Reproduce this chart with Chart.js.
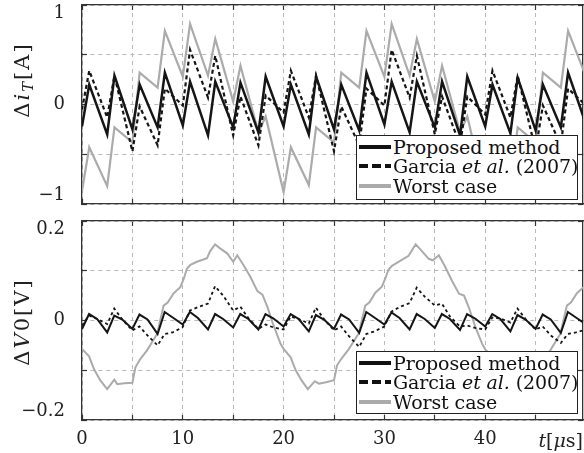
<!DOCTYPE html>
<html><head><meta charset="utf-8">
<script src="https://cdn.jsdelivr.net/npm/chart.js@4/dist/chart.umd.min.js"></script>
<style>
body{margin:0;background:#fff;width:584px;height:453px;overflow:hidden;position:relative;font-family:'DejaVu Serif',serif;color:#222}
canvas{position:absolute;left:0}
#c1{top:0}
#c2{top:212px}
.ylab{position:absolute;white-space:nowrap;font-size:21px;letter-spacing:2px;transform:translate(-50%,-50%) rotate(-90deg);}
.ylab sub{font-size:0.7em;vertical-align:-0.25em;line-height:0}
.leg{position:absolute;left:356px;width:222px;border:1.5px solid #222;background:#fff;font-size:19px;color:#111;box-sizing:border-box;padding:1px 0 0 0}
.leg div{display:flex;align-items:center;height:19.5px;white-space:nowrap;letter-spacing:-0.1px}
.leg svg{margin:0 2px 0 2px;flex:none}
#xlab{position:absolute;right:1px;top:429px;font-size:19px;white-space:nowrap}
</style></head>
<body>
<canvas id="c1" width="584" height="212"></canvas>
<canvas id="c2" width="584" height="241"></canvas>
<div class="ylab" style="left:22px;top:80px">Δ<i>i</i><sub><i>T</i></sub>[A]</div>
<div class="ylab" style="left:22px;top:322px">Δ<i>V</i>0[V]</div>
<div id="xlab"><i>t</i>[<i>μ</i>s]</div>
<div class="leg" style="top:135px;height:65px">
 <div><svg width="32" height="8"><line x1="0" y1="4" x2="32" y2="4" stroke="#111" stroke-width="4"/></svg>Proposed method</div>
 <div><svg width="32" height="8"><line x1="0" y1="4" x2="32" y2="4" stroke="#111" stroke-width="4" stroke-dasharray="9,4"/></svg>Garcia&nbsp;<i>et al.</i>&nbsp;(2007)</div>
 <div><svg width="32" height="8"><line x1="0" y1="4" x2="32" y2="4" stroke="#aaa" stroke-width="4"/></svg>Worst case</div>
</div>
<div class="leg" style="top:351px;height:63px">
 <div><svg width="32" height="8"><line x1="0" y1="4" x2="32" y2="4" stroke="#111" stroke-width="4"/></svg>Proposed method</div>
 <div><svg width="32" height="8"><line x1="0" y1="4" x2="32" y2="4" stroke="#111" stroke-width="4" stroke-dasharray="9,4"/></svg>Garcia&nbsp;<i>et al.</i>&nbsp;(2007)</div>
 <div><svg width="32" height="8"><line x1="0" y1="4" x2="32" y2="4" stroke="#aaa" stroke-width="4"/></svg>Worst case</div>
</div>
<script>
// ---------- data ----------
const seriesNames = ['Proposed method', 'Garcia et al. (2007)', 'Worst case'];

const tTop = [0,0.72,2.5,3.22,5,5.72,7.5,8.22,10,10.72,12.5,13.22,15,15.72,17.5,18.22,
  20,20.72,22.5,23.22,25,25.72,27.5,28.22,30,30.72,32.5,33.22,35,35.72,37.5,38.22,
  40,40.72,42.5,43.22,45,45.72,47.5,48.22,50];
const proposedTop = [-0.22,0.20,-0.30,0.29,-0.25,0.20,-0.23,0.32,-0.21,0.23,-0.31,0.23,-0.23,0.22,-0.28,0.28,
  -0.22,0.20,-0.30,0.28,-0.25,0.20,-0.26,0.32,-0.20,0.23,-0.28,0.23,-0.23,0.23,-0.31,0.28,
  -0.22,0.20,-0.29,0.27,-0.26,0.20,-0.23,0.32,-0.20];
const garciaTop = [-0.05,0.34,-0.13,0.29,-0.47,-0.02,-0.41,0.16,-0.01,0.55,0.07,0.49,-0.31,0.08,-0.41,0.09,
  -0.08,0.34,-0.13,0.29,-0.47,-0.02,-0.41,0.16,-0.01,0.55,0.07,0.49,-0.30,0.08,-0.41,0.08,
  -0.10,0.34,-0.13,0.29,-0.46,-0.01,-0.41,0.16,-0.01];
const worstTop = [-0.87,-0.43,-0.82,-0.23,-0.38,0.32,0.17,0.74,0.28,0.81,0.29,0.66,0.03,0.39,-0.28,-0.12,
  -0.88,-0.43,-0.81,-0.23,-0.38,0.32,0.17,0.74,0.28,0.81,0.29,0.66,0.03,0.39,-0.28,-0.12,
  -0.88,-0.43,-0.82,-0.23,-0.38,0.32,0.17,0.74,0.28];

const tBot = [0,0.7,1.5,2.5,3.2,4,5,5.7,6.5,7.5,8.2,9,10,10.7,11.5,12.5,13.2,14,15,15.7,16.5,17.5,18.2,19,
  20,20.7,21.5,22.5,23.2,24,25,25.7,26.5,27.5,28.2,29,30,30.7,31.5,32.5,33.2,34,35,35.7,36.5,37.5,38.2,39,
  40,40.7,41.5,42.5,43.2,44,45,45.7,46.5,47.5,48.2,49,50];
const proposedBot = [-0.017,0.013,0.003,-0.024,0.010,0.002,-0.017,0.012,0.002,-0.027,0.017,0.006,
  -0.008,0.017,0.005,-0.018,0.013,0.003,-0.014,0.013,0.003,-0.018,0.013,0.004,
  -0.012,0.013,0.003,-0.022,0.011,0.002,-0.017,0.012,0.002,-0.025,0.017,0.006,
  -0.008,0.016,0.005,-0.018,0.013,0.003,-0.015,0.013,0.003,-0.019,0.013,0.004,
  -0.012,0.013,0.003,-0.022,0.011,0.002,-0.017,0.012,0.002,-0.025,0.017,0.006,-0.008];
const garciaBot = [-0.010,0.010,0.003,-0.007,0.024,0.002,-0.020,-0.012,-0.030,-0.050,-0.027,-0.024,
  -0.013,0.020,0.027,0.034,0.069,0.050,0.020,0.028,0.005,-0.017,-0.008,-0.014,
  -0.018,0.008,0.003,-0.006,0.026,0.003,-0.020,-0.012,-0.032,-0.053,-0.027,-0.022,
  -0.012,0.018,0.027,0.035,0.066,0.048,0.030,0.034,0.008,-0.012,-0.010,-0.015,
  -0.018,0.006,0.004,-0.004,0.024,0.003,-0.018,-0.012,-0.030,-0.045,-0.027,-0.024,-0.018];

const tWorstBot = [0,0.7,1.2,1.8,2.5,3.2,3.5,4.2,5,5.3,5.8,6.45,7.45,8.1,8.5,9.1,9.75,10.1,10.4,10.75,
  11.4,12.4,12.7,13.2,13.7,14.4,15,15.4,16,16.7,17.4,17.9,18.4,19,19.7,
  20,20.7,21.2,21.8,22.4,23.1,23.5,24.2,25,25.3,25.8,26.45,27.45,28.1,28.5,29.1,29.75,30.1,30.4,30.75,
  31.4,32.4,32.7,33.1,33.7,34.4,34.8,35.4,36,36.7,37.4,37.9,38.4,39,39.7,
  40,40.7,41.2,41.8,42.5,43.2,43.5,44.2,45,45.3,45.8,46.45,47.45,48.1,48.5,49.1,49.75,50.1];
const worstBot = [-0.057,-0.072,-0.098,-0.120,-0.138,-0.119,-0.128,-0.126,-0.125,-0.094,-0.077,-0.060,-0.027,0.030,0.036,0.055,0.067,0.084,0.104,0.112,
  0.118,0.125,0.139,0.153,0.145,0.135,0.118,0.131,0.112,0.088,0.059,0.052,0.027,-0.010,-0.047,
  -0.057,-0.074,-0.100,-0.121,-0.138,-0.122,-0.127,-0.124,-0.120,-0.090,-0.075,-0.058,-0.026,0.030,0.036,0.056,0.068,0.085,0.102,0.110,
  0.118,0.130,0.140,0.153,0.140,0.124,0.121,0.131,0.109,0.080,0.054,0.050,0.025,-0.012,-0.047,
  -0.058,-0.072,-0.098,-0.120,-0.138,-0.119,-0.128,-0.126,-0.125,-0.094,-0.077,-0.060,-0.027,0.030,0.036,0.055,0.067,0.084];

const xTicks = [0,5,10,15,20,25,30,35,40,45];
const xTickLabels = ['0','','10','','20','','30','','40',''];
const yTopTicks = [-1,-0.5,0,0.5,1];
const yTopLabels = ['\u22121','','0','','1'];
const yBotTicks = [-0.2,-0.1,0,0.1,0.2];
const yBotLabels = ['\u22120.2','','0','','0.2'];

// ---------- drawing ----------
const FONT = {family:"'DejaVu Serif', serif", size:18, lineHeight:0.95};
const FRAME = '#333';
function pts(xs, ys){ return xs.map((x,i)=>({x:x, y:ys[i]})); }
function ds(label, xs, ys, color, width, dash){
  return {label, data: pts(xs, ys), borderColor: color, borderWidth: width, borderDash: dash || [],
    pointRadius: 0, tension: 0, fill: false};
}
function setTicks(list){ return s => { s.ticks = list.map(v => ({value: v})); }; }
function gridOpts(onArea){
  return {drawOnChartArea: onArea, color:'#b8b8b8', lineWidth:1, drawTicks:true,
    tickLength:-5, tickColor:FRAME, tickWidth:1.2};
}
function options(yTicks, yLabels, xHeight, padTop, showX){
  const yMin = yTicks[0], yMax = yTicks[yTicks.length-1];
  return {
    responsive:false, animation:false,
    layout:{padding:{top:padTop, left:0, right:1, bottom:0}},
    plugins:{legend:{display:false}, tooltip:{enabled:false}},
    scales:{
      x:{type:'linear', position:'bottom', min:0, max:49.7, afterBuildTicks:setTicks(xTicks),
        ticks:{display:showX, padding:16, color:'#222', font:FONT, maxRotation:0, autoSkip:false,
          callback:(v)=>{ const i = xTicks.indexOf(v); return i<0 ? '' : xTickLabels[i]; }},
        grid:gridOpts(true), border:{display:true, color:FRAME, width:1.3, dash:[4,4]},
        afterFit:s=>{ s.height = xHeight; s.paddingLeft = 0; s.paddingRight = 0; }},
      x2:{type:'linear', position:'top', min:0, max:49.7, afterBuildTicks:setTicks(xTicks),
        ticks:{display:false}, grid:gridOpts(false), border:{display:true, color:FRAME, width:1.3},
        afterFit:s=>{ s.height = 0; s.paddingLeft = 0; s.paddingRight = 0; }},
      y:{type:'linear', position:'left', min:yMin, max:yMax, afterBuildTicks:setTicks(yTicks),
        ticks:{padding:22, color:'#222', font:FONT, autoSkip:false,
          callback:(v)=>{ const i = yTicks.indexOf(v); if(i<0) return '';
            const l = yLabels[i];
            if (v === yMax) return ['', l];
            if (v === yMin) return [l, ''];
            return l; }},
        grid:gridOpts(true), border:{display:true, color:FRAME, width:1.3, dash:[4,4]},
        afterFit:s=>{ s.width = 82; s.paddingTop = 0; s.paddingBottom = 0; }},
      y2:{type:'linear', position:'right', min:yMin, max:yMax, afterBuildTicks:setTicks(yTicks),
        ticks:{display:false}, grid:gridOpts(false), border:{display:true, color:FRAME, width:1.3},
        afterFit:s=>{ s.width = 0; s.paddingTop = 0; s.paddingBottom = 0; }}
    }
  };
}

new Chart(document.getElementById('c1'), {
  type:'line',
  data:{datasets:[
    ds(seriesNames[0], tTop, proposedTop, '#151515', 2.5),
    ds(seriesNames[1], tTop, garciaTop, '#151515', 2.2, [4,3]),
    ds(seriesNames[2], tTop, worstTop, '#ababab', 2.2)
  ]},
  options: options(yTopTicks, yTopLabels, 8, 5, false)
});
new Chart(document.getElementById('c2'), {
  type:'line',
  data:{datasets:[
    ds(seriesNames[0], tBot, proposedBot, '#151515', 2),
    ds(seriesNames[1], tBot, garciaBot, '#151515', 1.8, [3,3]),
    ds(seriesNames[2], tWorstBot, worstBot, '#ababab', 2)
  ]},
  options: options(yBotTicks, yBotLabels, 33, 9, true)
});
</script>
</body></html>
